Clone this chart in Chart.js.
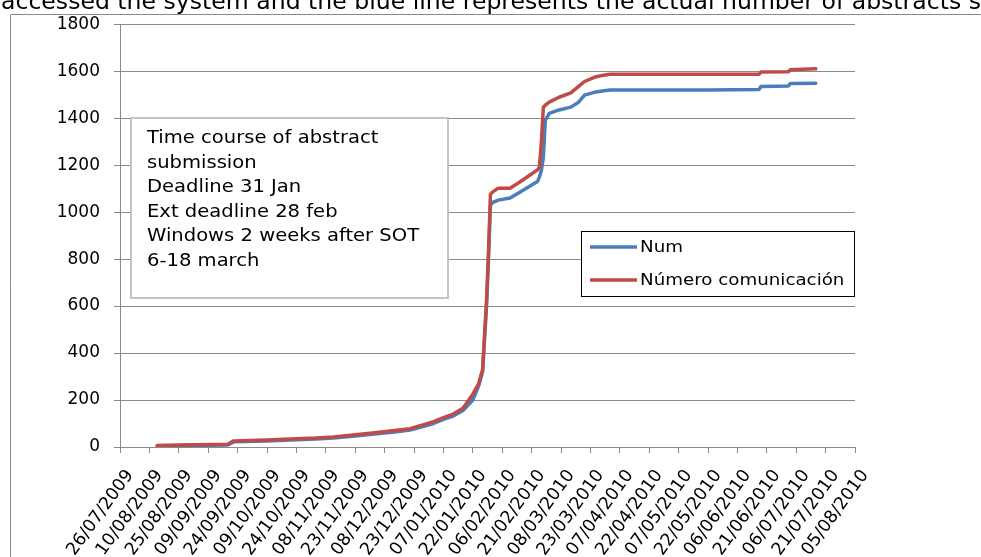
<!DOCTYPE html>
<html>
<head>
<meta charset="utf-8">
<script src="https://cdn.jsdelivr.net/npm/chart.js@4"></script>
<style>
  html, body { margin: 0; padding: 0; background: #fff; overflow: hidden; }
  #wrap { position: relative; width: 981px; height: 557px; }
</style>
</head>
<body>
<div id="wrap"><canvas id="abstracts" width="981" height="557"></canvas></div>
<script>
// days counted from 26/07/2009
const days = [19, 30, 55, 58, 75, 87, 100, 109, 120, 130, 140, 148, 155, 160, 165, 170, 175, 180, 183, 185,
    186, 187, 188, 189, 190, 193, 199, 204, 209, 213, 214, 215, 216, 217, 219, 224, 230, 234, 237, 242,
    246, 250, 300, 326, 327, 341, 342, 355]
const num = [3, 5, 9, 22, 26, 30, 34, 38, 47, 55, 64, 72, 88, 100, 118, 132, 155, 200, 260, 320,
    460, 600, 800, 1030, 1040, 1051, 1060, 1085, 1110, 1130, 1150, 1178, 1234, 1391, 1420, 1435, 1447, 1468, 1498, 1510,
    1516, 1520, 1520, 1522, 1535, 1537, 1548, 1549]
const numeroComunicacion = [6, 8, 12, 26, 30, 34, 38, 43, 52, 61, 70, 78, 95, 108, 125, 140, 165, 225, 270, 330,
    480, 620, 830, 1075, 1085, 1102, 1102, 1128, 1157, 1180, 1191, 1300, 1447, 1455, 1468, 1489, 1508, 1535, 1556, 1574,
    1582, 1587, 1587, 1587, 1596, 1598, 1606, 1610]
const tickLabels = ['26/07/2009', '10/08/2009', '25/08/2009', '09/09/2009', '24/09/2009', '09/10/2009', '24/10/2009',
    '08/11/2009', '23/11/2009', '08/12/2009', '23/12/2009', '07/01/2010', '22/01/2010', '06/02/2010', '21/02/2010',
    '08/03/2010', '23/03/2010', '07/04/2010', '22/04/2010', '07/05/2010', '22/05/2010', '06/06/2010', '21/06/2010',
    '06/07/2010', '21/07/2010', '05/08/2010']
const seriesLabels = ['Num', 'Número comunicación']
const noteLines = ['Time course of abstract', 'submission', 'Deadline 31 Jan', 'Ext deadline 28 feb',
    'Windows 2 weeks after SOT', '6-18 march']
const headerText = 'accessed the system and the blue line represents the actual number of abstracts s'

const BLUE = '#4a7ebb'
const RED = '#be4b48'
const GRID = '#898989'
const FONT = '"DejaVu Sans", sans-serif'

const toPoints = values => days.map((d, i) => ({ x: d, y: values[i] }))

// stretched text, the original picture is wider than it is tall
const wideText = (ctx, text, x, y, size, sx) => {
    ctx.save()
    ctx.translate(x, y)
    ctx.scale(sx, 1)
    ctx.font = size + 'px ' + FONT
    ctx.fillText(text, 0, 0)
    ctx.restore()
}

const decor = {
    id: 'decor',
    beforeDraw: (chart) => {
        const ctx = chart.ctx
        ctx.save()
        ctx.fillStyle = '#fff'
        ctx.fillRect(0, 0, chart.width, chart.height)
        // outer frame of the embedded chart
        ctx.strokeStyle = GRID
        ctx.lineWidth = 1
        ctx.beginPath()
        ctx.moveTo(10.5, chart.height)
        ctx.lineTo(10.5, 14.5)
        ctx.lineTo(chart.width, 14.5)
        ctx.stroke()
        // cut off line of the document text above the chart
        ctx.fillStyle = '#000'
        ctx.textBaseline = 'alphabetic'
        ctx.font = '23px ' + FONT
        const w = ctx.measureText(headerText).width
        wideText(ctx, headerText, 1, 9, 23, 980 / w)
        ctx.restore()
    },
    afterDraw: (chart) => {
        const ctx = chart.ctx
        const xs = chart.scales.x
        ctx.save()

        // rotated date labels under the x ticks
        ctx.fillStyle = '#000'
        ctx.font = '17.5px ' + FONT
        ctx.textAlign = 'right'
        ctx.textBaseline = 'middle'
        xs.ticks.forEach((t, i) => {
            ctx.save()
            ctx.translate(xs.getPixelForValue(t.value) + 10, xs.top + 25)
            ctx.rotate(-54 * Math.PI / 180)
            ctx.fillText(tickLabels[i], 0, 0)
            ctx.restore()
        })
        ctx.textAlign = 'left'

        // note box
        ctx.fillStyle = '#fff'
        ctx.fillRect(130, 117, 318, 181)
        ctx.strokeStyle = '#c4c4c4'
        ctx.lineWidth = 2
        ctx.strokeRect(131, 118, 317, 180)
        ctx.fillStyle = '#000'
        ctx.textBaseline = 'alphabetic'
        noteLines.forEach((line, i) => wideText(ctx, line, 147, 143 + i * 24.5, 17, 1.15))

        // legend box
        ctx.fillStyle = '#fff'
        ctx.fillRect(581, 231, 274, 66)
        ctx.strokeStyle = '#000'
        ctx.lineWidth = 1
        ctx.strokeRect(581.5, 231.5, 273, 65)
        chart.data.datasets.forEach((ds, i) => {
            const y = 247 + i * 33
            ctx.strokeStyle = ds.borderColor
            ctx.lineWidth = 3.5
            ctx.beginPath()
            ctx.moveTo(590, y)
            ctx.lineTo(637, y)
            ctx.stroke()
            ctx.fillStyle = '#000'
            ctx.textBaseline = 'middle'
            wideText(ctx, ds.label, 640, y + 1, 16, 1.14)
        })
        ctx.restore()
    }
}

new Chart(document.getElementById('abstracts'), {
    type: 'line',
    data: {
        datasets: [
            { label: seriesLabels[0], data: toPoints(num), borderColor: BLUE, backgroundColor: BLUE, order: 1 },
            { label: seriesLabels[1], data: toPoints(numeroComunicacion), borderColor: RED, backgroundColor: RED, order: 0 }
        ]
    },
    options: {
        responsive: false,
        animation: false,
        layout: { padding: { left: 0, top: 24, right: 126, bottom: 0 } },
        elements: {
            point: { radius: 0 },
            line: { borderWidth: 3.5, tension: 0, borderCapStyle: 'round', borderJoinStyle: 'round' }
        },
        plugins: { legend: { display: false }, tooltip: { enabled: false } },
        scales: {
            x: {
                type: 'linear',
                min: 0,
                max: 375,
                afterFit: (scale) => { scale.height = 110 },
                border: { color: GRID, width: 1 },
                grid: { drawOnChartArea: false, drawTicks: true, tickLength: 6, color: GRID },
                ticks: { stepSize: 15, autoSkip: false, display: false }
            },
            y: {
                min: 0,
                max: 1800,
                afterFit: (scale) => { scale.width = 120 },
                border: { color: GRID, width: 1 },
                grid: { color: GRID, tickLength: 6 },
                ticks: {
                    stepSize: 200,
                    padding: 14,
                    color: '#000',
                    font: { family: FONT, size: 17 },
                    callback: (value) => String(value)
                }
            }
        }
    },
    plugins: [decor]
})
</script>
</body>
</html>
